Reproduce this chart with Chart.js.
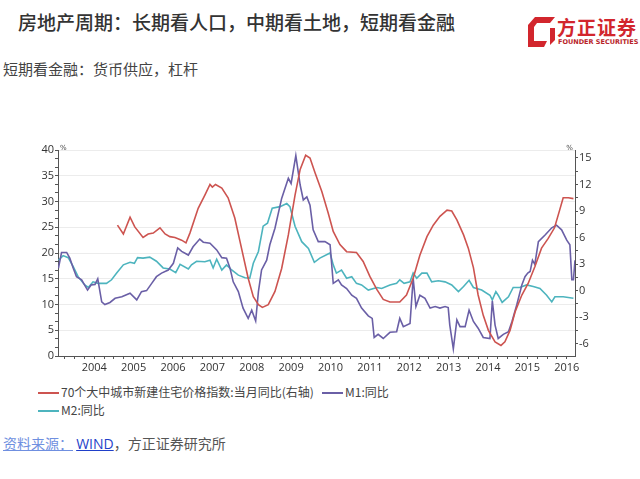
<!DOCTYPE html>
<html>
<head>
<meta charset="utf-8">
<script src="https://cdn.jsdelivr.net/npm/chart.js@4.4.1/dist/chart.umd.min.js"></script>
<style>
  body { margin:0; width:640px; height:479px; background:#fff; position:relative; overflow:hidden;
         font-family:"Noto Sans CJK SC", sans-serif; }
  #title { position:absolute; left:18px; top:12px; font-size:19px; line-height:1; color:#333; font-weight:500; }
  #sub { position:absolute; left:3px; top:61px; font-size:15px; line-height:1; color:#444; }
  #logo { position:absolute; left:526px; top:15px; }
  #logo .cn { position:absolute; left:31px; top:2px; font-size:19px; line-height:1; font-weight:700; color:#d2262d; white-space:nowrap; letter-spacing:1px; }
  #logo .en { position:absolute; left:32px; top:24px; font-size:6.5px; line-height:1; font-family:"DejaVu Sans"; font-weight:bold; color:#b8242a; white-space:nowrap; }
  #wrap { position:absolute; left:30px; top:140px; width:580px; height:240px; }
  #legend { position:absolute; left:38px; top:386px; font-size:12px; line-height:1; color:#444; }
  .item { position:absolute; white-space:nowrap; }
  .item i { display:inline-block; width:21px; height:2px; vertical-align:middle; margin-right:2px; position:relative; top:-1px; }
  #src { position:absolute; left:3px; top:436px; font-size:14px; line-height:1; color:#555; }
  #src .a { color:#6f8fe0; text-decoration:underline; }
  #src .b { color:#1f3fc9; text-decoration:underline; font-family:"Open Sans", sans-serif; }
</style>
</head>
<body>
<div id="title">房地产周期：长期看人口，中期看土地，短期看金融</div>
<div id="sub">短期看金融：货币供应，杠杆</div>
<div id="logo">
  <svg width="30" height="34" viewBox="0 0 30 34">
    <path d="M2 10 L9 2 H29 L24 8 H11 L8 12 V26 H21 L18 32 H2 Z" fill="#d2262d"/>
    <path d="M24 13 H29 V25 L24 30 Z" fill="#d2262d"/>
  </svg>
  <div class="cn">方正证券</div>
  <div class="en">FOUNDER SECURITIES</div>
</div>
<div id="wrap"><canvas id="chart" width="580" height="240"></canvas></div>
<div id="legend"></div>
<div id="src"><span class="a">资料来源：</span> <span class="b">WIND</span>，方正证券研究所</div>

<script>
// 年份刻度
const yearLabels = [2004, 2005, 2006, 2007, 2008, 2009, 2010, 2011, 2012, 2013, 2014, 2015, 2016];

// 70个大中城市新建住宅价格指数:当月同比 (右轴)
const priceDates = [
  2004.59, 2004.74, 2004.91,
  2005.03, 2005.24, 2005.37, 2005.50, 2005.67, 2005.80, 2005.92,
  2006.05, 2006.22, 2006.33, 2006.43, 2006.64, 2006.81, 2006.94,
  2007.00, 2007.08, 2007.24, 2007.40, 2007.57, 2007.74, 2007.91,
  2008.04, 2008.17, 2008.27, 2008.42, 2008.59, 2008.76, 2008.93,
  2009.10, 2009.23, 2009.37, 2009.48, 2009.61, 2009.78, 2009.94,
  2010.07, 2010.24, 2010.41, 2010.66, 2010.83,
  2011.00, 2011.18, 2011.34, 2011.51, 2011.76, 2011.93,
  2012.10, 2012.27, 2012.45, 2012.61, 2012.78, 2012.96,
  2013.08, 2013.21, 2013.38, 2013.50, 2013.63, 2013.75, 2013.88,
  2014.01, 2014.18, 2014.33, 2014.43, 2014.56, 2014.69, 2014.86,
  2015.02, 2015.19, 2015.36, 2015.53, 2015.69, 2015.82, 2015.91,
  2016.04, 2016.17
];
const priceValues = [
  7.4, 6.4, 8.3,
  7.2, 6.0, 6.4, 6.5, 7.1, 6.4, 6.1,
  6.0, 5.7, 5.4, 6.5, 9.3, 10.8, 12.0,
  11.7, 12.0, 11.6, 10.5, 8.2, 4.8, 1.4,
  -0.7, -1.6, -1.9, -1.6, -0.1, 2.5, 6.3,
  10.8, 13.7, 15.3, 15.0, 13.3, 11.2, 8.8,
  6.7, 5.2, 4.4, 4.3, 3.3,
  1.6, 0.1, -1.0, -1.3, -1.3, -0.5,
  1.4, 4.0, 6.1, 7.4, 8.4, 9.1,
  9.0, 8.0, 6.3, 4.8, 2.6, -0.5, -2.8,
  -4.5, -5.8, -6.2, -5.8, -4.5, -2.4, -0.5,
  0.8, 2.7, 4.8, 5.9, 7.1, 9.1, 10.5,
  10.5, 10.4
];

// M1:同比
const m1Dates = [
  2003.09, 2003.17, 2003.30, 2003.38, 2003.47, 2003.55, 2003.68, 2003.83, 2003.92,
  2004.02, 2004.09, 2004.19, 2004.27, 2004.40, 2004.53, 2004.70, 2004.91,
  2005.08, 2005.20, 2005.33, 2005.46, 2005.58, 2005.71, 2005.88,
  2006.01, 2006.12, 2006.22, 2006.39, 2006.51, 2006.68, 2006.77, 2006.94,
  2007.11, 2007.24, 2007.36, 2007.45, 2007.53, 2007.66, 2007.78, 2007.91,
  2008.00, 2008.10, 2008.17, 2008.25, 2008.38, 2008.46, 2008.59, 2008.76, 2008.93,
  2009.00, 2009.12, 2009.23, 2009.31, 2009.40, 2009.48, 2009.56, 2009.69, 2009.86, 2009.99,
  2010.07, 2010.20, 2010.28, 2010.41, 2010.54, 2010.66, 2010.79, 2010.96,
  2011.06, 2011.11, 2011.21, 2011.34, 2011.51, 2011.68, 2011.76, 2011.85,
  2012.02, 2012.10, 2012.17, 2012.27, 2012.40, 2012.53, 2012.66, 2012.78, 2012.91, 2012.99,
  2013.03, 2013.12, 2013.21, 2013.29, 2013.42, 2013.52, 2013.63, 2013.75, 2013.88,
  2014.05, 2014.11, 2014.18, 2014.26, 2014.39, 2014.52, 2014.61, 2014.73, 2014.86, 2014.94,
  2015.01, 2015.07, 2015.13, 2015.19, 2015.28, 2015.45, 2015.62, 2015.74, 2015.87,
  2016.00, 2016.08, 2016.13, 2016.17, 2016.21
];
const m1Values = [
  17.0, 20.1, 20.1, 19.0, 17.0, 15.4, 14.8, 12.8, 13.8,
  13.9, 15.0, 10.5, 10.0, 10.4, 11.2, 11.5, 12.2,
  10.9, 12.5, 12.7, 14.1, 15.4, 16.1, 16.7,
  18.0, 21.0, 20.3, 19.6, 21.2, 22.7, 22.1, 21.9,
  20.6, 19.1, 19.0, 17.0, 14.4, 12.5, 9.3, 7.3,
  8.9, 6.8, 12.5, 16.7, 18.6, 21.6, 24.8, 30.6, 34.5,
  33.5, 38.9, 33.2, 30.3, 30.9, 29.3, 24.5, 22.2, 22.2, 21.6,
  14.1, 14.8, 13.8, 13.1, 11.8, 11.2, 9.3, 7.8,
  7.3, 3.6, 4.2, 3.4, 4.6, 4.7, 7.3, 5.7,
  6.3, 15.1, 9.6, 11.8, 11.2, 9.3, 9.6, 9.3, 9.6, 9.4,
  6.0, 1.4, 7.0, 5.7, 5.7, 8.9, 6.7, 5.4, 3.6,
  3.4, 10.7, 6.0, 3.4, 4.2, 4.7, 6.7, 9.9, 13.8, 15.4,
  16.1, 16.4, 18.6, 17.8, 22.2, 23.5, 24.9, 25.4, 24.5,
  22.5, 21.6, 14.8, 14.8, 18.6
];

// M2:同比
const m2Dates = [
  2003.09, 2003.21, 2003.34, 2003.47, 2003.59, 2003.76, 2003.85, 2003.97,
  2004.10, 2004.31, 2004.44, 2004.57, 2004.74, 2004.91,
  2005.02, 2005.10, 2005.24, 2005.41, 2005.58, 2005.75, 2005.92,
  2006.07, 2006.18, 2006.39, 2006.47, 2006.60, 2006.81, 2006.94,
  2007.02, 2007.11, 2007.24, 2007.36, 2007.49, 2007.66, 2007.83, 2007.95,
  2008.04, 2008.17, 2008.29, 2008.40, 2008.52, 2008.72, 2008.89, 2008.97,
  2009.10, 2009.27, 2009.44, 2009.59, 2009.73, 2009.99,
  2010.07, 2010.15, 2010.28, 2010.41, 2010.54, 2010.66, 2010.79, 2010.96,
  2011.18, 2011.30, 2011.51, 2011.68, 2011.76, 2011.87,
  2012.02, 2012.10, 2012.19, 2012.32, 2012.45, 2012.57, 2012.74, 2012.91,
  2013.08, 2013.25, 2013.38, 2013.52, 2013.63, 2013.84,
  2014.05, 2014.11, 2014.20, 2014.26, 2014.36, 2014.52, 2014.64, 2014.81, 2014.98,
  2015.15, 2015.32, 2015.49, 2015.62, 2015.70, 2015.91,
  2016.17
];
const m2Values = [
  18.6, 19.5, 19.1, 17.3, 15.4, 13.8, 13.3, 14.4,
  14.1, 14.1, 14.8, 16.1, 17.7, 18.2,
  18.0, 19.1, 19.0, 19.2, 18.4, 17.1, 16.9,
  16.2, 17.8, 16.9, 17.7, 18.4, 18.3, 18.6,
  17.1, 18.8, 16.7, 17.7, 16.7, 15.7, 15.2, 15.1,
  18.0, 20.3, 25.2, 25.8, 28.7, 29.0, 29.6, 29.0,
  25.2, 22.2, 20.9, 18.2, 19.0, 20.0,
  17.7, 16.1, 16.7, 15.1, 15.4, 14.1, 13.8, 12.8,
  13.3, 13.1, 13.8, 14.1, 14.8, 14.1,
  14.4, 16.1, 15.1, 16.1, 16.1, 14.4, 14.6, 14.4,
  13.8, 12.5, 13.5, 14.7, 13.3, 12.8,
  11.8, 10.9, 12.5, 11.8, 10.4, 11.5, 13.3, 13.3, 13.8,
  13.5, 13.1, 11.8, 10.5, 11.5, 11.5,
  11.2
];

const pts = (xs, ys) => xs.map((x, i) => ({ x: x, y: ys[i] }));

const percentMarks = {
  id: 'percentMarks',
  afterDraw(chart) {
    const { ctx, chartArea } = chart;
    ctx.save();
    ctx.font = '7px "DejaVu Sans"';
    ctx.fillStyle = '#444';
    ctx.textBaseline = 'top';
    ctx.textAlign = 'left';
    ctx.fillText('%', chartArea.left + 2, chartArea.top - 5);
    ctx.textAlign = 'right';
    ctx.fillText('%', chartArea.right - 2, chartArea.top - 5);
    ctx.restore();
  }
};

const tickFont = { family: '"Open Sans", sans-serif', size: 11 };
const isStep = (v, s) => Math.abs(v / s - Math.round(v / s)) < 1e-6;

const chart = new Chart(document.getElementById('chart'), {
  type: 'line',
  data: {
    datasets: [
      { label: '70个大中城市新建住宅价格指数:当月同比(右轴)', data: pts(priceDates, priceValues),
        borderColor: '#cd5450', yAxisID: 'y1' },
      { label: 'M1:同比', data: pts(m1Dates, m1Values), borderColor: '#6a5fa6', yAxisID: 'y' },
      { label: 'M2:同比', data: pts(m2Dates, m2Values), borderColor: '#4db4be', yAxisID: 'y' }
    ]
  },
  options: {
    responsive: false,
    animation: false,
    layout: { padding: { top: 10 } },
    elements: {
      line: { borderWidth: 1.6, tension: 0 },
      point: { radius: 0 }
    },
    plugins: { legend: { display: false }, tooltip: { enabled: false } },
    scales: {
      x: {
        type: 'linear', min: 2003.08, max: 2016.21,
        afterBuildTicks: s => {
          const t = [];
          for (let i = 1; i <= 52; i++) t.push({ value: 2003 + i * 0.25 });
          s.ticks = t;
        },
        afterFit: s => { s.height = 24; },
        ticks: {
          autoSkip: false, maxRotation: 0, padding: 2, color: '#333', font: tickFont,
          callback: v => (isStep(v, 1) && yearLabels.includes(Math.round(v))) ? String(Math.round(v)) : ''
        },
        grid: { drawOnChartArea: false, tickLength: 3, tickColor: '#555' },
        border: { color: '#555' }
      },
      y: {
        position: 'left', min: 0, max: 40,
        afterBuildTicks: s => {
          const t = [];
          for (let i = 0; i <= 24; i++) t.push({ value: i * 5 / 3 });
          s.ticks = t;
        },
        afterFit: s => { s.width = 28; },
        ticks: {
          autoSkip: false, padding: 1, color: '#333', font: tickFont,
          callback: v => isStep(v, 5) ? String(Math.round(v)) : ''
        },
        grid: {
          tickLength: 3, tickColor: '#555',
          color: c => (isStep(c.tick.value, 5) && c.tick.value > 0) ? '#ececec' : 'rgba(0,0,0,0)'
        },
        border: { color: '#555' }
      },
      y1: {
        position: 'right', min: -7.4, max: 15.9,
        afterBuildTicks: s => {
          const t = [];
          for (let i = 0; i <= 14; i++) t.push({ value: -6 + i * 1.5 });
          s.ticks = t;
        },
        afterFit: s => { s.width = 35; },
        ticks: {
          autoSkip: false, padding: 1, color: '#333', font: tickFont,
          callback: v => isStep(v, 3) ? String(Math.round(v)) : ''
        },
        grid: { drawOnChartArea: false, tickLength: 3, tickColor: '#555' },
        border: { color: '#555' }
      }
    }
  },
  plugins: [percentMarks]
});

// legend rows built from the dataset labels
const legendPos = [[0, 0], [284, 0], [0, 18]];
const legend = document.getElementById('legend');
chart.data.datasets.forEach((ds, i) => {
  const el = document.createElement('div');
  el.className = 'item';
  el.style.left = legendPos[i][0] + 'px';
  el.style.top = legendPos[i][1] + 'px';
  el.innerHTML = '<i style="background:' + ds.borderColor + '"></i>' + ds.label;
  legend.appendChild(el);
});
</script>
</body>
</html>
